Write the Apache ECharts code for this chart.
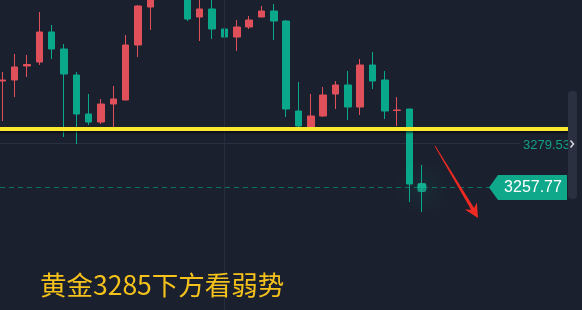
<!DOCTYPE html>
<html>
<head>
<meta charset="utf-8">
<script src="https://cdn.jsdelivr.net/npm/echarts@6/dist/echarts.min.js"></script>
<style>
  html, body { margin: 0; padding: 0; background: #1b202e; }
  #chart { width: 582px; height: 310px; }
</style>
</head>
<body>
<div id="chart"></div>
<script>
// Gold intraday candles (open / close / low / high), oldest first
const opens  = [3311.0, 3311.5, 3318.5, 3320.5, 3335.5, 3327.0, 3314.0, 3294.5, 3290.5, 3299.5,
                3301.5, 3329.0, 3348.0, 3359.0, 3370.0, 3366.0, 3343.0, 3347.0, 3337.0, 3333.0,
                3338.0, 3343.0, 3346.0, 3341.0, 3296.0, 3288.0, 3293.5, 3304.5, 3309.0, 3298.0,
                3319.0, 3311.5, 3296.25, 3297.0, 3259.5];
const closes = [3311.5, 3318.0, 3319.25, 3335.5, 3327.0, 3314.5, 3294.5, 3290.5, 3299.5, 3302.0,
                3329.0, 3348.5, 3359.0, 3370.0, 3366.0, 3342.0, 3347.0, 3337.0, 3333.0, 3338.0,
                3341.5, 3346.0, 3341.0, 3297.0, 3288.5, 3293.5, 3304.0, 3309.0, 3298.0, 3319.0,
                3311.0, 3296.0, 3296.5, 3259.5, 3257.77];
const lows   = [3291.0, 3303.0, 3313.0, 3319.0, 3322.0, 3283.0, 3279.5, 3289.0, 3289.5, 3287.5,
                3301.5, 3323.0, 3336.5, 3356.0, 3362.0, 3341.0, 3331.0, 3332.0, 3323.5, 3326.0,
                3337.0, 3343.0, 3331.5, 3293.0, 3288.0, 3287.5, 3293.0, 3297.0, 3291.5, 3294.0,
                3307.0, 3292.0, 3288.5, 3250.5, 3245.5];
const highs  = [3315.5, 3324.5, 3324.0, 3345.5, 3339.0, 3329.5, 3315.5, 3304.5, 3302.0, 3308.5,
                3334.0, 3349.0, 3362.0, 3374.0, 3377.0, 3368.0, 3353.0, 3354.0, 3339.5, 3341.5,
                3343.5, 3348.5, 3349.5, 3341.5, 3310.5, 3304.5, 3308.0, 3311.0, 3316.0, 3322.0,
                3325.5, 3316.0, 3303.0, 3297.0, 3269.0];

// Bar slots on the time axis (the last ones are still empty)
const slotCount = 47;
const slots = Array.from({ length: slotCount }, (_, i) => String(i + 1));

// Price levels
const lastPrice = 3257.77;
const refPrice = 3279.53;
const keyLevel = 3287;
const guideSlot = 18;
const headline = '黄金3285下方看弱势';

const UP = '#e0505a';
const DOWN = '#0aa88a';

const candles = opens.map((o, i) => [o, closes[i], lows[i], highs[i]]);

const chart = echarts.init(document.getElementById('chart'));
chart.setOption({
  animation: false,
  backgroundColor: '#1b202e',
  grid: { left: 2.3, width: 567.64, top: 0, bottom: 0 },
  xAxis: { type: 'category', data: slots, boundaryGap: false, show: false },
  yAxis: { type: 'value', min: 3196.5, max: 3351.5, show: false, splitLine: { show: false } },
  series: [
    {
      type: 'line', data: [], z: 1, silent: true,
      markLine: {
        silent: true, symbol: 'none', animation: false,
        label: { show: false },
        lineStyle: { color: '#262d3d', width: 1, type: 'solid' },
        data: [{ xAxis: guideSlot }]
      }
    },
    {
      type: 'candlestick',
      data: candles,
      barWidth: 7,
      z: 3,
      clip: false,
      itemStyle: {
        color: UP, color0: DOWN,
        borderColor: UP, borderColor0: DOWN,
        borderWidth: 1
      }
    },
    {
      type: 'scatter', z: 6, silent: true,
      data: [[candles.length - 1, lastPrice]],
      symbol: 'roundRect', symbolSize: 9,
      itemStyle: { color: '#14b394', shadowBlur: 26, shadowColor: 'rgba(20,200,160,1)' }
    }
  ]
});

const py = v => chart.convertToPixel({ yAxisIndex: 0 }, v);
const crisp = y => Math.floor(y) + 0.5;
const yLast = py(lastPrice);
const yRef = py(refPrice);
const yKey = py(keyLevel);

// Arrow pointing down-right
function arrowShape(x0, y0, x1, y1) {
  const dx = x1 - x0, dy = y1 - y0, len = Math.hypot(dx, dy);
  const ux = dx / len, uy = dy / len, nx = uy, ny = -ux;
  const bx = x1 - 14 * ux, by = y1 - 14 * uy;
  const sx = x1 - 10.5 * ux, sy = y1 - 10.5 * uy;
  return [
    [x0 + 0.4 * nx, y0 + 0.4 * ny],
    [sx + 1.7 * nx, sy + 1.7 * ny],
    [bx + 7 * nx, by + 7 * ny],
    [x1, y1],
    [bx - 7 * nx, by - 7 * ny],
    [sx - 1.7 * nx, sy - 1.7 * ny],
    [x0 - 0.4 * nx, y0 - 0.4 * ny]
  ];
}

chart.setOption({
  graphic: [
    { type: 'line', z: 1, silent: true,
      shape: { x1: 0, y1: crisp(yRef), x2: 520, y2: crisp(yRef) },
      style: { stroke: '#283041', lineWidth: 1 } },
    { type: 'text', z: 4, silent: true, x: 523, y: yRef + 1.5,
      style: { text: refPrice.toFixed(2), fill: '#14a085',
               font: '13px "Liberation Sans", Arial, sans-serif',
               verticalAlign: 'middle', align: 'left' } },
    { type: 'line', z: 1, silent: true,
      shape: { x1: 0, y1: crisp(yLast), x2: 490, y2: crisp(yLast) },
      style: { stroke: '#0e7060', lineWidth: 1, lineDash: [5, 4] } },
    { type: 'line', z: 5, silent: true,
      shape: { x1: 0, y1: yKey, x2: 568, y2: yKey },
      style: { stroke: '#ffe92e', lineWidth: 4,
               shadowColor: 'rgba(0,0,0,0.55)', shadowBlur: 2, shadowOffsetY: 2 } },
    { type: 'polygon', z: 8, silent: true,
      shape: { points: [[489, yLast], [498, yLast - 12.5], [567, yLast - 12.5],
                        [567, yLast + 12.5], [498, yLast + 12.5]] },
      style: { fill: '#0fa88a' } },
    { type: 'text', z: 9, silent: true, x: 533, y: yLast + 0.5,
      style: { text: lastPrice.toFixed(2), fill: '#ffffff',
               font: '16px "Liberation Sans", Arial, sans-serif',
               verticalAlign: 'middle', align: 'center' } },
    { type: 'rect', z: 10, silent: true,
      shape: { x: 568, y: 91, width: 9, height: 108, r: 4 },
      style: { fill: '#2a303f' } },
    { type: 'polyline', z: 11, silent: true,
      shape: { points: [[570.5, yRef - 3.5], [573.5, yRef], [570.5, yRef + 3.5]] },
      style: { stroke: '#d6dae2', lineWidth: 1.5, fill: null } },
    { type: 'polygon', z: 12, silent: true,
      shape: { points: arrowShape(435, 146, 478, 218) },
      style: { fill: '#ee2a22' } },
    { type: 'text', z: 12, silent: true, x: 40, y: 285,
      style: { text: headline, fill: '#f5c21b',
               font: '26.5px "Noto Sans CJK SC", sans-serif',
               verticalAlign: 'middle', align: 'left' } }
  ]
});
</script>
</body>
</html>
